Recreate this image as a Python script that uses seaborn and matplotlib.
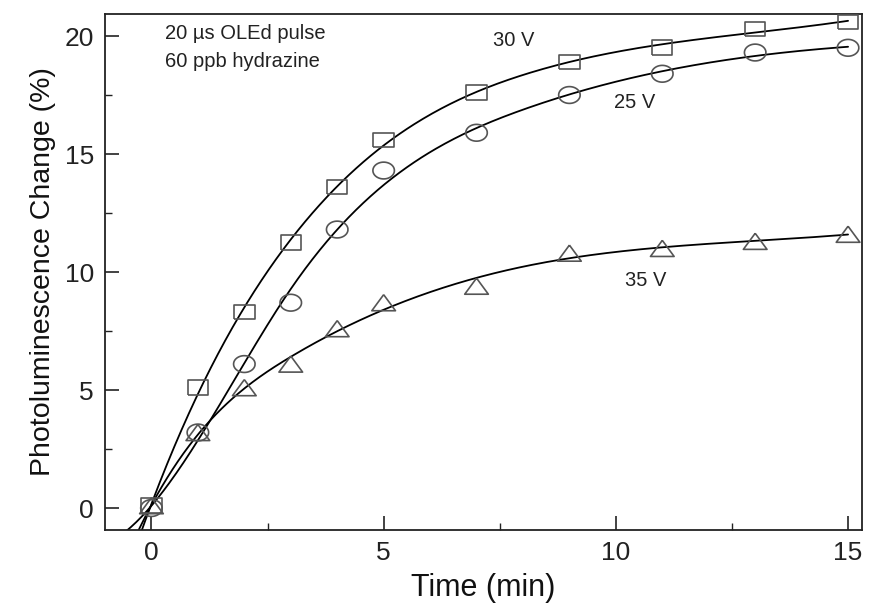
import numpy as np
import pandas as pd
import matplotlib
matplotlib.use("Agg")
import matplotlib.pyplot as plt
import seaborn as sns
from matplotlib.ticker import MultipleLocator

# ---- data ----
time_min = [0, 1, 2, 3, 4, 5, 7, 9, 11, 13, 15]
pl_30v = [0.1, 5.1, 8.3, 11.25, 13.6, 15.6, 17.6, 18.9, 19.5, 20.3, 20.6]
pl_25v = [0.0, 3.2, 6.1, 8.7, 11.8, 14.3, 15.9, 17.5, 18.4, 19.3, 19.5]
pl_35v = [0.1, 3.2, 5.1, 6.1, 7.6, 8.7, 9.4, 10.8, 11.0, 11.3, 11.6]
series_labels = ["30 V", "25 V", "35 V"]
x_ticks = [0, 5, 10, 15]
y_ticks = [0, 5, 10, 15, 20]

sns.set_theme(style="ticks")
plt.rcParams['font.family'] = ['Liberation Sans', 'DejaVu Sans']

fig = plt.figure(figsize=(8.7, 6.11), dpi=100)
ax = fig.add_axes([0.1207, 0.1326, 0.9908 - 0.1207, 0.977 - 0.1326])

t = np.array(time_min, dtype=float)
knots = [3.0, 8.0]


def basis(x):
    x = np.asarray(x, dtype=float)
    cols = [np.ones_like(x), x, x ** 2, x ** 3]
    cols += [np.clip(x - k, 0, None) ** 3 for k in knots]
    return np.column_stack(cols)


def fit_curve(y):
    """Least-squares cubic regression spline through the measured points."""
    y = np.asarray(y, dtype=float)
    coef, *_ = np.linalg.lstsq(basis(t), y, rcond=None)
    tt = np.linspace(-0.6, 15, 400)
    return tt, basis(tt) @ coef


# slightly wide marker shapes (the reference symbols are wider than tall)
sq_marker = [(-1, -0.72), (1, -0.72), (1, 0.72), (-1, 0.72), (-1, -0.72)]
ang = np.linspace(0, 2 * np.pi, 60)
ell_marker = list(zip(np.cos(ang), 0.78 * np.sin(ang)))
tri_marker = [(0, 0.68), (-1, -0.68), (1, -0.68), (0, 0.68)]
markers = [(sq_marker, 215), (ell_marker, 240), (tri_marker, 290)]

for lab, vals, (mk, sz) in zip(series_labels, [pl_30v, pl_25v, pl_35v], markers):
    tt, yy = fit_curve(vals)
    df_fit = pd.DataFrame({"t": tt, "y": yy})
    sns.lineplot(data=df_fit, x="t", y="y", ax=ax, color="black", lw=1.3,
                 sort=False, estimator=None)
    df_pts = pd.DataFrame({"t": time_min, "y": vals})
    sns.scatterplot(data=df_pts, x="t", y="y", ax=ax, marker=mk, s=sz,
                    facecolor="none", edgecolor="#555555", linewidth=1.2,
                    zorder=3)

ax.set_xlim(-1.0, 15.3)
ax.set_ylim(-0.93, 20.93)
ax.set_xticks(x_ticks)
ax.set_yticks(y_ticks)
ax.xaxis.set_minor_locator(MultipleLocator(2.5))
ax.yaxis.set_minor_locator(MultipleLocator(2.5))
ax.tick_params(which="major", direction="in", length=10, width=1.2,
               labelsize=19, colors="#222222", pad=8)
ax.tick_params(which="minor", direction="in", length=5, width=1.0,
               colors="#222222")
for sp in ax.spines.values():
    sp.set_linewidth(1.3)
    sp.set_color("#222222")

ax.set_xlabel("Time (min)", fontsize=22, color="#111111", labelpad=6)
ax.set_ylabel("Photoluminescence Change (%)", fontsize=20.5, color="#111111",
              labelpad=6)

ax.text(0.3, 20.1, "20 µs OLEd pulse", fontsize=14.5, color="#222222", va="center")
ax.text(0.3, 18.9, "60 ppb hydrazine", fontsize=14.5, color="#222222", va="center")
ax.text(7.35, 19.8, series_labels[0], fontsize=14.5, color="#222222", va="center")
ax.text(9.95, 17.2, series_labels[1], fontsize=14.5, color="#222222", va="center")
ax.text(10.2, 9.65, series_labels[2], fontsize=14.5, color="#222222", va="center")

fig.savefig("out.png", dpi=100)
